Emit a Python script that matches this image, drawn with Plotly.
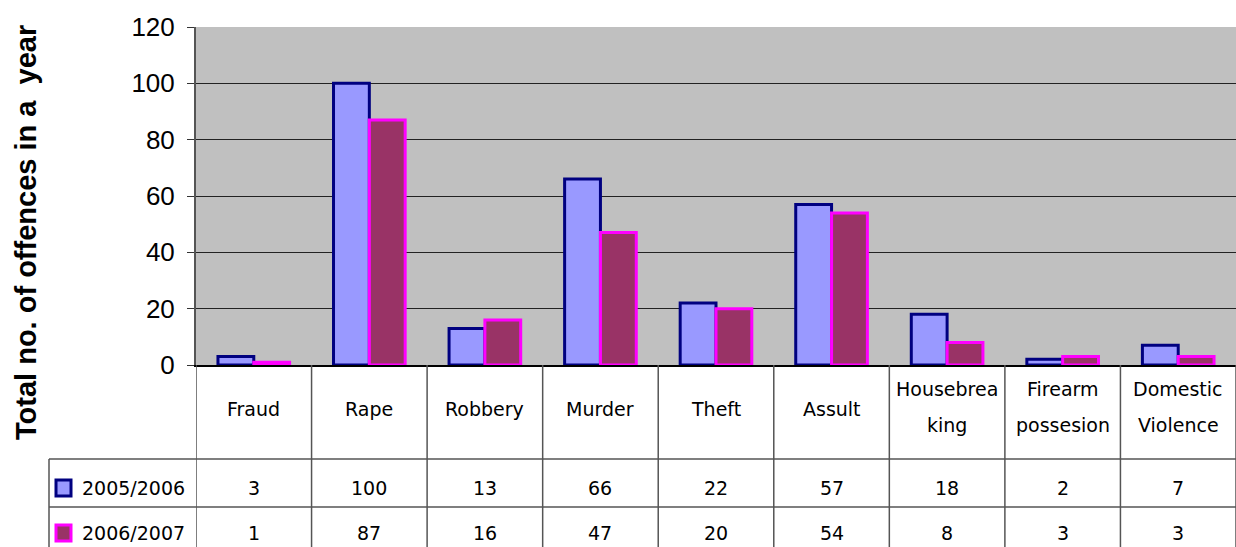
import plotly.graph_objects as go

categories = ["Fraud", "Rape", "Robbery", "Murder", "Theft", "Assult",
              "Housebreaking", "Firearm possesion", "Domestic Violence"]
header_lines = [["Fraud"], ["Rape"], ["Robbery"], ["Murder"], ["Theft"], ["Assult"],
                ["Housebrea", "king"], ["Firearm", "possesion"], ["Domestic", "Violence"]]
series_names = ["2005/2006", "2006/2007"]
values_2005 = [3, 100, 13, 66, 22, 57, 18, 2, 7]
values_2006 = [1, 87, 16, 47, 20, 54, 8, 3, 3]
y_ticks = [0, 20, 40, 60, 80, 100, 120]

W, H = 1236, 547
L, R, T, B = 196, 0, 27, 182
PW, PH = W - L - R, H - T - B

def px(X):
    return (X - L) / PW

def py(Y):
    return (H - B - Y) / PH

fill = ["#9999FF", "#993366"]
edge = ["#000080", "#FF00FF"]

fig = go.Figure()
for name, vals, f, e in zip(series_names, [values_2005, values_2006], fill, edge):
    fig.add_trace(go.Bar(x=categories, y=vals, name=name,
                         marker=dict(color=f, line=dict(color=e, width=3))))

fig.update_layout(
    width=W, height=H,
    margin=dict(l=L, r=R, t=T, b=B, autoexpand=False),
    paper_bgcolor="white", plot_bgcolor="#C0C0C0",
    barmode="group", bargap=0.38, bargroupgap=0,
    showlegend=False,
    font=dict(family="Liberation Sans, Arial", color="black"),
)
fig.update_yaxes(range=[0, 120], tickvals=y_ticks, showgrid=True, gridcolor="#222222",
                 gridwidth=1, showline=True, linecolor="#555555", linewidth=2,
                 ticks="outside", ticklen=7, tickcolor="#333333",
                 tickfont=dict(size=26, family="Liberation Sans, Arial", color="black"),
                 ticklabelstandoff=7, zeroline=False)
fig.update_xaxes(showticklabels=False, showline=True, linecolor="black", linewidth=2,
                 showgrid=False, ticks="", range=[-0.5, len(categories) - 0.5])

shapes = []
ann = []
line_col = "#555555"
for Y in [459, 507]:
    shapes.append(dict(type="line", xref="paper", yref="paper", x0=px(49), x1=1,
                       y0=py(Y), y1=py(Y), line=dict(color=line_col, width=1.5)))
for i in range(len(categories) + 1):
    shapes.append(dict(type="line", xref="x", yref="paper", x0=i - 0.5, x1=i - 0.5,
                       y0=0, y1=py(H), line=dict(color=line_col, width=1.5)))
shapes.append(dict(type="line", xref="paper", yref="paper", x0=px(49), x1=px(49),
                   y0=py(459), y1=py(H), line=dict(color=line_col, width=1.5)))

for k, (name, Yc) in enumerate(zip(series_names, [488, 533])):
    shapes.append(dict(type="rect", xref="paper", yref="paper",
                       x0=px(56), x1=px(71), y0=py(Yc - 8), y1=py(Yc + 8),
                       fillcolor=fill[k], line=dict(color=edge[k], width=3)))
    ann.append(dict(text=name, xref="paper", yref="paper", x=px(80), y=py(Yc),
                    xanchor="left", yanchor="middle", showarrow=False,
                    font=dict(family="DejaVu Sans", size=19, color="black")))

for i, lines in enumerate(header_lines):
    ys = [409] if len(lines) == 1 else [389, 425]
    for t, Yc in zip(lines, ys):
        ann.append(dict(text=t, xref="x", yref="paper", x=i, y=py(Yc),
                        xanchor="center", yanchor="middle", showarrow=False,
                        font=dict(family="DejaVu Sans", size=19, color="black")))

for vals, Yc in zip([values_2005, values_2006], [488, 533]):
    for i, v in enumerate(vals):
        ann.append(dict(text=str(v), xref="x", yref="paper", x=i, y=py(Yc),
                        xanchor="center", yanchor="middle", showarrow=False,
                        font=dict(family="DejaVu Sans", size=19, color="black")))

ann.append(dict(text="Total no. of offences in a\u00a0\u00a0year", xref="paper", yref="paper",
                x=px(26), y=py(233), xanchor="center", yanchor="middle", textangle=-90,
                showarrow=False,
                font=dict(family="Liberation Sans, Arial", size=29, color="black", weight="bold")))

fig.update_layout(shapes=shapes, annotations=ann)
fig.write_html("out.html", config={"displayModeBar": False},
               post_script="document.body.style.margin='0';document.body.style.overflow='hidden';")
